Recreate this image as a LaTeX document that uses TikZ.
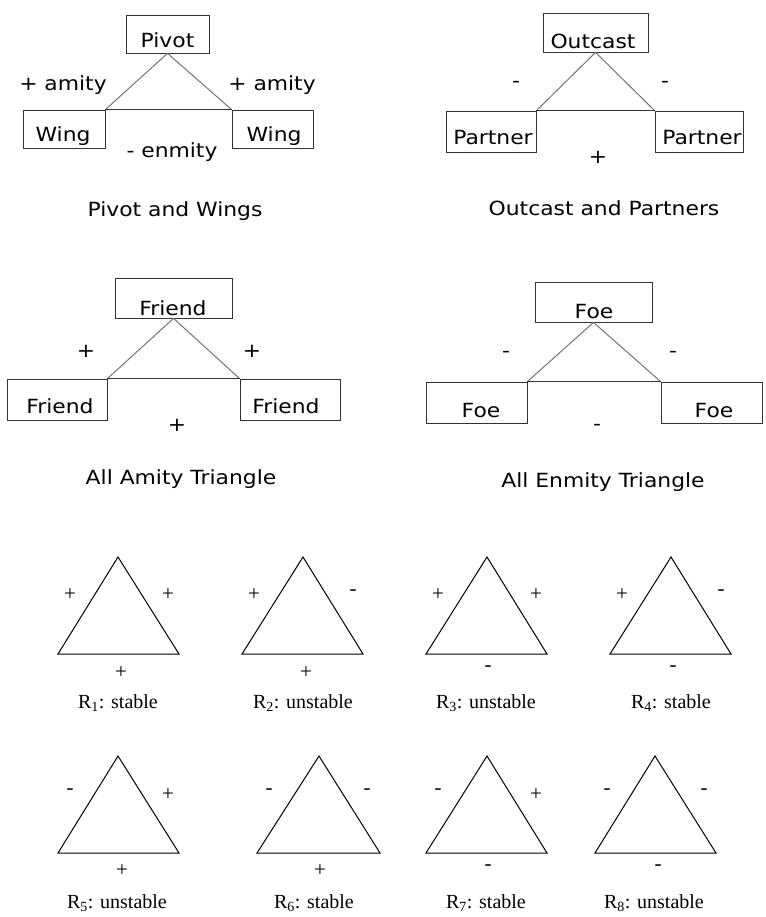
\documentclass[tikz,border=0pt]{standalone}
\usepackage{fontspec}
\setmainfont{Liberation Serif}
\newfontfamily\gul{DejaVu Sans}[FakeStretch=1.12]
\begin{document}
\begin{tikzpicture}[x=1pt,y=-1pt,
  box/.style={draw=black!80, line width=0.8pt, inner sep=0pt},
  link/.style={draw=black!55, line width=1pt},
  hline/.style={draw=black!80, line width=0.9pt},
  sans/.style={font=\gul\fontsize{19.5}{19.5}\selectfont, inner sep=0pt},
  serif/.style={font=\fontsize{21}{21}\selectfont, inner sep=0pt},
  rcaption/.style={font=\fontsize{20}{20}\selectfont, inner sep=0pt, anchor=base},
  tri/.style={draw=black, line width=1pt, line join=miter}]
\useasboundingbox (0,0) rectangle (765,917);

% ---------- Pivot and Wings ----------
\node[box, minimum width=83pt, minimum height=38pt] (pivot) at (167.5,34) {};
\node[box, minimum width=82pt, minimum height=38pt] (wingL) at (64,129) {};
\node[box, minimum width=81pt, minimum height=38pt] (wingR) at (272.5,129) {};
\node[sans, anchor=base] (pivotT) at (167.5,48) {Pivot};
\node[sans, anchor=base] (wingLT) at (63,142) {Wing};
\node[sans, anchor=base] (wingRT) at (274,142) {Wing};
\draw[link] (pivot.south) -- (wingL.north east);
\draw[link] (pivot.south) -- (wingR.north west);
\draw[hline] (wingL.north east) -- (wingR.north west);
\node[sans, anchor=base] (amL) at (63,91) {+ amity};
\node[sans, anchor=base] (amR) at (272,91) {+ amity};
\node[sans, anchor=base] (enm) at (172,158) {- enmity};
\node[sans, anchor=base] (capA) at (175,217) {Pivot and Wings};

% ---------- Outcast and Partners ----------
\node[box, minimum width=105pt, minimum height=39pt] (outc) at (595.5,32.5) {};
\node[box, minimum width=90pt, minimum height=41pt] (partL) at (491,131.5) {};
\node[box, minimum width=88pt, minimum height=41pt] (partR) at (699,131.5) {};
\node[sans, anchor=base] (outcT) at (593,49) {Outcast};
\node[sans, anchor=base] (partLT) at (493,145) {Partner};
\node[sans, anchor=base] (partRT) at (702,145) {Partner};
\draw[link] (outc.south) -- (partL.north east);
\draw[link] (outc.south) -- (partR.north west);
\draw[hline] (partL.north east) -- (partR.north west);
\node[sans] (ocL) at (516,84) {-};
\node[sans] (ocR) at (665,84) {-};
\node[sans] (ocB) at (598,157) {+};
\node[sans, anchor=base] (capB) at (604,215) {Outcast and Partners};

% ---------- All Amity Triangle ----------
\node[box, minimum width=117pt, minimum height=40pt] (frT) at (173.5,298) {};
\node[box, minimum width=100pt, minimum height=41pt] (frL) at (57,399.5) {};
\node[box, minimum width=100pt, minimum height=41pt] (frR) at (290,399.5) {};
\node[sans, anchor=base] (frTT) at (173,315) {Friend};
\node[sans, anchor=base] (frLT) at (60,413) {Friend};
\node[sans, anchor=base] (frRT) at (286,413) {Friend};
\draw[link] (frT.south) -- (frL.north east);
\draw[link] (frT.south) -- (frR.north west);
\draw[hline] (frL.north east) -- (frR.north west);
\node[sans] (faL) at (86,351) {+};
\node[sans] (faR) at (252,351) {+};
\node[sans] (faB) at (177,425) {+};
\node[sans, anchor=base] (capC) at (181,484) {All Amity Triangle};

% ---------- All Enmity Triangle ----------
\node[box, minimum width=117pt, minimum height=40pt] (foT) at (593.5,302) {};
\node[box, minimum width=101pt, minimum height=41pt] (foL) at (476.5,402.5) {};
\node[box, minimum width=101pt, minimum height=41pt] (foR) at (711.5,402.5) {};
\node[sans, anchor=base] (foTT) at (594,318) {Foe};
\node[sans, anchor=base] (foLT) at (481,417) {Foe};
\node[sans, anchor=base] (foRT) at (714,417) {Foe};
\draw[link] (foT.south) -- (foL.north east);
\draw[link] (foT.south) -- (foR.north west);
\draw[hline] (foL.north east) -- (foR.north west);
\node[sans] (feL) at (506,354) {-};
\node[sans] (feR) at (673,354) {-};
\node[sans] (feB) at (597,427) {-};
\node[sans, anchor=base] (capD) at (603,487) {All Enmity Triangle};

% ---------- Triangles row 1 ----------
\coordinate (t1a) at (118,557); \coordinate (t1l) at (58,654); \coordinate (t1r) at (179,654);
\coordinate (t2a) at (303,557); \coordinate (t2l) at (242,654); \coordinate (t2r) at (363,654);
\coordinate (t3a) at (487,557); \coordinate (t3l) at (426,654); \coordinate (t3r) at (547,654);
\coordinate (t4a) at (671,557); \coordinate (t4l) at (610,654); \coordinate (t4r) at (731,654);
\foreach \i in {1,2,3,4} {\draw[tri] (t\i a) -- (t\i r) -- (t\i l) -- cycle;}
\node[serif] (l1a) at (70,595) {+};  \node[serif] (l1b) at (168,595) {+}; \node[serif] (l1c) at (121,673) {+};
\node[serif] (l2a) at (254,595) {+}; \node[serif] (l2b) at (353,593) {-}; \node[serif] (l2c) at (306,673) {+};
\node[serif] (l3a) at (438,595) {+}; \node[serif] (l3b) at (536,595) {+}; \node[serif] (l3c) at (488,669) {-};
\node[serif] (l4a) at (622,595) {+}; \node[serif] (l4b) at (721,593) {-}; \node[serif] (l4c) at (673,669) {-};
\node[rcaption] (c1) at (118,708) {R\textsubscript{1}: stable};
\node[rcaption] (c2) at (303,708) {R\textsubscript{2}: unstable};
\node[rcaption] (c3) at (486,708) {R\textsubscript{3}: unstable};
\node[rcaption] (c4) at (671,708) {R\textsubscript{4}: stable};

% ---------- Triangles row 2 ----------
\coordinate (t5a) at (118,756); \coordinate (t5l) at (58,853); \coordinate (t5r) at (179,853);
\coordinate (t6a) at (319,756); \coordinate (t6l) at (257,853); \coordinate (t6r) at (380,853);
\coordinate (t7a) at (487,756); \coordinate (t7l) at (426,853); \coordinate (t7r) at (547,853);
\coordinate (t8a) at (655,756); \coordinate (t8l) at (595,853); \coordinate (t8r) at (716,853);
\foreach \i in {5,6,7,8} {\draw[tri] (t\i a) -- (t\i r) -- (t\i l) -- cycle;}
\node[serif] (l5a) at (70,792) {-};  \node[serif] (l5b) at (168,795) {+}; \node[serif] (l5c) at (122,871) {+};
\node[serif] (l6a) at (269,792) {-}; \node[serif] (l6b) at (367,792) {-}; \node[serif] (l6c) at (320,871) {+};
\node[serif] (l7a) at (438,792) {-}; \node[serif] (l7b) at (536,795) {+}; \node[serif] (l7c) at (488,868) {-};
\node[serif] (l8a) at (607,792) {-}; \node[serif] (l8b) at (704,792) {-}; \node[serif] (l8c) at (658,868) {-};
\node[rcaption] (c5) at (117,908) {R\textsubscript{5}: unstable};
\node[rcaption] (c6) at (314,908) {R\textsubscript{6}: stable};
\node[rcaption] (c7) at (486,908) {R\textsubscript{7}: stable};
\node[rcaption] (c8) at (654,908) {R\textsubscript{8}: unstable};
\end{tikzpicture}
\end{document}
